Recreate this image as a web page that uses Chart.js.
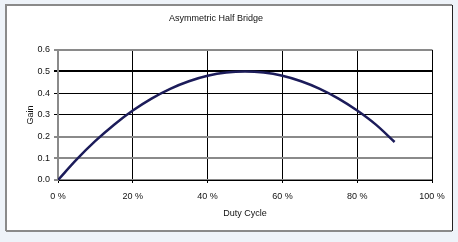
<!DOCTYPE html>
<html>
<head>
<meta charset="utf-8">
<script src="https://cdn.jsdelivr.net/npm/chart.js@4.4.0/dist/chart.umd.min.js"></script>
<style>
  html, body { margin: 0; padding: 0; background: #eef3f9; overflow: hidden; }
  canvas { display: block; }
</style>
</head>
<body>
<canvas id="gain-chart" width="458" height="242"></canvas>
<script>
// duty cycle (%) and gain
const dutyCycle = [0, 5, 10, 15, 20, 25, 30, 35, 40, 45, 50, 55, 60, 65, 70, 75, 80, 85, 90];
const gainValues = [0, 0.095, 0.18, 0.255, 0.32, 0.375, 0.42, 0.455, 0.48, 0.495, 0.5, 0.495, 0.48, 0.455, 0.42, 0.375, 0.32, 0.255, 0.175];
const xTicks = [0, 20, 40, 60, 80, 100];
const yTicks = [0, 0.1, 0.2, 0.3, 0.4, 0.5, 0.6];

// frame round the chart, like the excel chart area
const framePlugin = {
    id: 'frame',
    beforeDraw(chart) {
        const ctx = chart.ctx;
        ctx.save();
        ctx.fillStyle = '#eef3f9';
        ctx.fillRect(0, 0, chart.width, chart.height);
        ctx.fillStyle = '#ffffff';
        ctx.fillRect(6, 5, 446, 226);
        ctx.strokeStyle = '#8a8a8a';
        ctx.lineWidth = 2;
        ctx.beginPath();
        ctx.moveTo(6, 231); ctx.lineTo(6, 5); ctx.lineTo(452, 5);
        ctx.moveTo(6, 231); ctx.lineTo(452, 231);
        ctx.stroke();
        ctx.strokeStyle = '#222';
        ctx.lineWidth = 1;
        ctx.beginPath();
        ctx.moveTo(452.5, 5); ctx.lineTo(452.5, 231);
        ctx.stroke();
        ctx.restore();
    }
};

const font = { family: 'Arial, "Liberation Sans", sans-serif', size: 9, weight: 'normal' };

new Chart(document.getElementById('gain-chart'), {
    type: 'line',
    data: {
        datasets: [{
            label: 'Gain',
            data: dutyCycle.map((d, i) => ({ x: d, y: gainValues[i] })),
            borderColor: '#1c1c5a',
            borderWidth: 2.5,
            pointRadius: 0,
            cubicInterpolationMode: 'monotone',
            fill: false
        }]
    },
    options: {
        responsive: false,
        animation: false,
        devicePixelRatio: 1,
        layout: { padding: { left: 0, right: 26, top: 0, bottom: 0 } },
        plugins: {
            legend: { display: false },
            tooltip: { enabled: false },
            title: {
                display: true,
                text: 'Asymmetric Half Bridge',
                color: '#111',
                font: font,
                padding: { top: 13, bottom: 26 }
            }
        },
        scales: {
            x: {
                type: 'linear',
                min: 0,
                max: 100,
                afterBuildTicks: s => { s.ticks = xTicks.map(v => ({ value: v })); },
                afterFit: s => { s.height = 62; },
                ticks: {
                    color: '#111',
                    font: font,
                    padding: 8,
                    maxRotation: 0,
                    callback: v => v + ' %'
                },
                grid: { color: '#000', lineWidth: 1, tickLength: 3 },
                border: { color: '#000', width: 1 },
                title: {
                    display: true,
                    text: 'Duty Cycle',
                    color: '#111',
                    font: font,
                    padding: { top: 4, bottom: 23 }
                }
            },
            y: {
                min: 0,
                max: 0.6,
                afterBuildTicks: s => { s.ticks = yTicks.map(v => ({ value: v })); },
                afterFit: s => { s.width = 58; },
                ticks: {
                    color: '#111',
                    font: font,
                    padding: 4,
                    autoSkip: false,
                    callback: v => v.toFixed(1)
                },
                grid: {
                    tickLength: 4,
                    color: c => {
                        const v = Math.round(c.tick.value * 10);
                        return (v === 3 || v === 4 || v === 5) ? '#000' : '#8a8a8a';
                    },
                    lineWidth: c => {
                        const v = Math.round(c.tick.value * 10);
                        return (v === 3 || v === 4) ? 1 : 2;
                    }
                },
                border: { color: '#8a8a8a', width: 2 },
                title: {
                    display: true,
                    text: 'Gain',
                    color: '#111',
                    font: font,
                    padding: { top: 25, bottom: 4 }
                }
            }
        }
    },
    plugins: [framePlugin]
});
</script>
</body>
</html>
